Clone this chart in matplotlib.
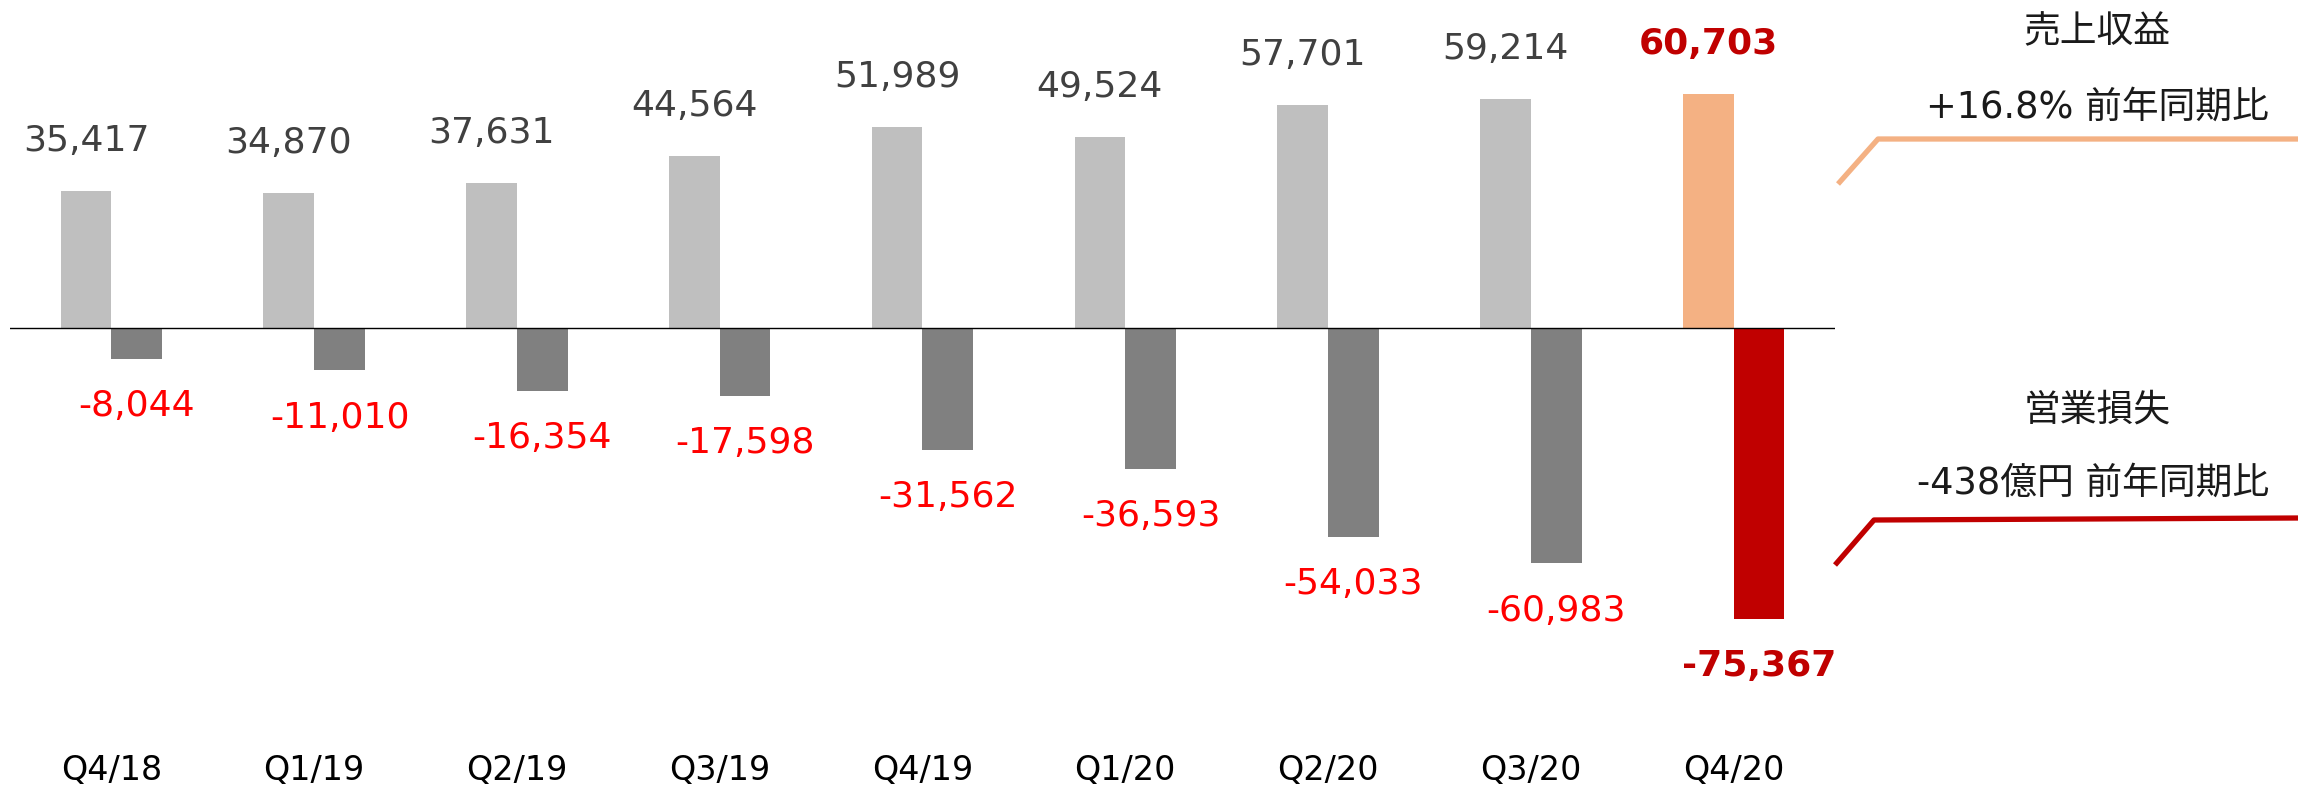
import numpy as np
import matplotlib
matplotlib.use('Agg')
import matplotlib.pyplot as plt
from matplotlib.lines import Line2D

quarters = ['Q4/18', 'Q1/19', 'Q2/19', 'Q3/19', 'Q4/19', 'Q1/20', 'Q2/20', 'Q3/20', 'Q4/20']
revenue = [35417, 34870, 37631, 44564, 51989, 49524, 57701, 59214, 60703]
op_loss = [-8044, -11010, -16354, -17598, -31562, -36593, -54033, -60983, -75367]

rev_note = ['売上収益', '+16.8% 前年同期比']
loss_note = ['営業損失', '-438億円 前年同期比']


def main():
    plt.rcParams['font.family'] = ['DejaVu Sans', 'Noto Sans CJK JP']

    W, H = 2298, 787
    fig = plt.figure(figsize=(W / 100, H / 100), dpi=100)
    ax = fig.add_axes([10 / W, 47 / H, 1825 / W, 740 / H])

    x = np.arange(len(quarters))
    w = 0.25
    n = len(quarters)

    rev_colors = ['#BFBFBF'] * (n - 1) + ['#F4B183']
    loss_colors = ['#808080'] * (n - 1) + ['#C00000']

    ax.bar(x - w / 2, revenue, width=w, color=rev_colors, zorder=2)
    ax.bar(x + w / 2, op_loss, width=w, color=loss_colors, zorder=2)
    ax.axhline(0, color='black', lw=1.0, zorder=3)

    for i in range(n):
        last = i == n - 1
        ax.annotate(f'{revenue[i]:,}', (x[i] - w / 2, revenue[i]),
                    xytext=(0, 36), textcoords='offset points',
                    ha='center', va='center', fontsize=26,
                    color='#C00000' if last else '#404040',
                    fontweight='bold' if last else 'normal')
        ax.annotate(f'{op_loss[i]:,}', (x[i] + w / 2, op_loss[i]),
                    xytext=(0, -34), textcoords='offset points',
                    ha='center', va='center', fontsize=26,
                    color='#C00000' if last else '#FF0000',
                    fontweight='bold' if last else 'normal')

    ax.set_xlim(-0.5, n - 0.5)
    top = 328 / 3.86 * 1000
    ax.set_ylim(-(740 - 328) / 3.86 * 1000, top)
    ax.set_xticks(x)
    ax.set_xticklabels(quarters, fontsize=24, color='black')
    ax.tick_params(axis='x', length=0, pad=10)
    ax.set_yticks([])
    for s in ax.spines.values():
        s.set_visible(False)

    # side notes with leader lines (pixel positions -> figure fraction)
    def px(xp, yp):
        return xp / W, 1 - yp / H

    def leader(pts, color):
        xs, ys = zip(*[px(a, b) for a, b in pts])
        fig.add_artist(Line2D(xs, ys, color=color, lw=3.8,
                              transform=fig.transFigure, solid_capstyle='butt'))

    leader([(1838, 184), (1878, 139), (2298, 139)], '#F4B183')
    leader([(1835, 565), (1874, 520), (2298, 518)], '#C00000')

    for (xp, yp), s in zip([(2097, 32), (2097, 107)], rev_note):
        fig.text(*px(xp, yp), s, ha='center', va='center', fontsize=26.5, color='#1a1a1a')
    for (xp, yp), s in zip([(2097, 410), (2093, 483)], loss_note):
        fig.text(*px(xp, yp), s, ha='center', va='center', fontsize=26.5, color='#1a1a1a')

    fig.savefig('out.png', dpi=100, facecolor='white')


if __name__ == '__main__':
    main()
